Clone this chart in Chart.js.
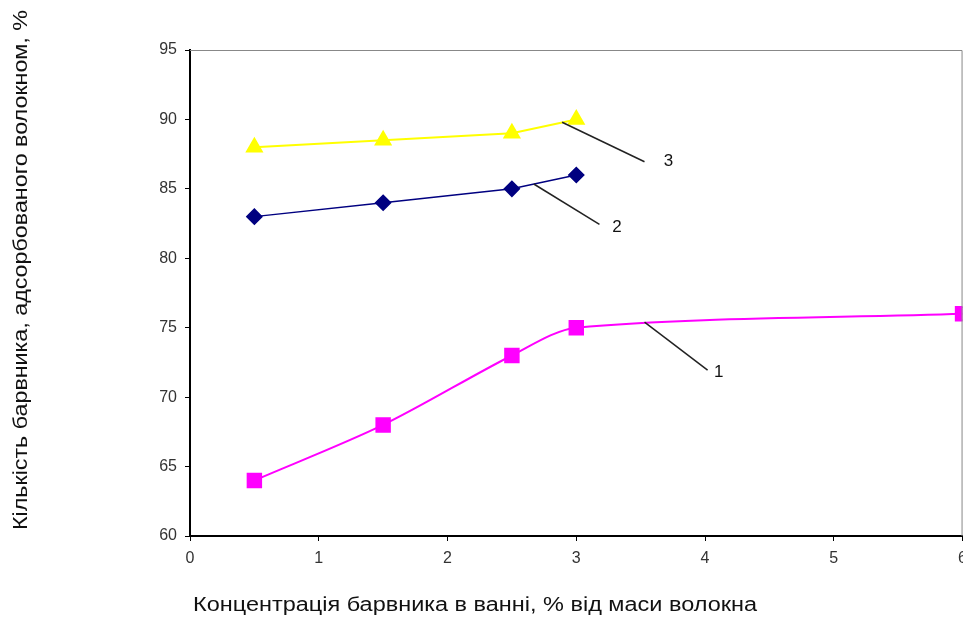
<!DOCTYPE html>
<html>
<head>
<meta charset="utf-8">
<script src="https://cdn.jsdelivr.net/npm/chart.js@4/dist/chart.umd.min.js"></script>
<style>
  html, body { margin: 0; padding: 0; background: #fff; overflow: hidden; }
  /* slightly wider than the window: the picture crops the right edge */
  #wrap { width: 975px; height: 621px; position: relative; }
</style>
</head>
<body>
<div id="wrap"><canvas id="chart"></canvas></div>
<script>
// concentration of dye in bath, % of fibre mass
const xValues1 = [0.5, 1.5, 2.5, 3, 6];
const curve1 = [64, 68, 73, 75, 76];
const xValues2 = [0.5, 1.5, 2.5, 3];
const curve2 = [83, 84, 85, 86];
const xValues3 = [0.5, 1.5, 2.5, 3];
const curve3 = [88, 88.5, 89, 90];

const yTitle = 'Кількість барвника, адсорбованого волокном, %';
const xTitle = 'Концентрація барвника в ванні, % від маси волокна';

// leader lines to the curve numbers: [from x, from y, to x, to y]
const leaderLabels = ['1', '2', '3'];
const leaderLines = [
  [3.53, 75.4, 4.02, 71.95],
  [2.67, 85.35, 3.18, 82.45],
  [2.89, 89.8, 3.53, 86.95]
];
const labelPos = [
  [4.07, 71.8],
  [3.28, 82.2],
  [3.68, 87.0]
];

const toPts = (xs, ys) => xs.map((x, i) => ({ x: x, y: ys[i] }));
const FONT = '"Liberation Sans", Arial, sans-serif';

// draw text stretched to a given width (the source picture is a bit wide)
function wideText(ctx, text, cx, cy, size, width) {
  ctx.font = size + 'px ' + FONT;
  const w = ctx.measureText(text).width;
  ctx.save();
  ctx.translate(cx, cy);
  ctx.scale(width / w, 1);
  ctx.fillText(text, 0, 0);
  ctx.restore();
}

const extras = {
  id: 'extras',
  afterDatasetsDraw(chart) {
    const ctx = chart.ctx;
    const a = chart.chartArea;
    const sx = chart.scales.x, sy = chart.scales.y;
    ctx.save();
    // frame on top/right
    ctx.strokeStyle = '#888';
    ctx.lineWidth = 1;
    ctx.beginPath();
    ctx.moveTo(a.left, a.top + 0.5);
    ctx.lineTo(a.right - 0.5, a.top + 0.5);
    ctx.lineTo(a.right - 0.5, a.bottom);
    ctx.stroke();

    // leader lines + numbers
    ctx.strokeStyle = '#222';
    ctx.lineWidth = 1.5;
    leaderLines.forEach(l => {
      ctx.beginPath();
      ctx.moveTo(sx.getPixelForValue(l[0]), sy.getPixelForValue(l[1]));
      ctx.lineTo(sx.getPixelForValue(l[2]), sy.getPixelForValue(l[3]));
      ctx.stroke();
    });
    ctx.fillStyle = '#111';
    ctx.font = '17px ' + FONT;
    ctx.textAlign = 'left';
    ctx.textBaseline = 'middle';
    labelPos.forEach((p, i) => {
      ctx.fillText(leaderLabels[i], sx.getPixelForValue(p[0]), sy.getPixelForValue(p[1]));
    });

    // axis titles
    ctx.textAlign = 'center';
    wideText(ctx, xTitle, 475, 605, 20, 564);
    ctx.translate(21, 270);
    ctx.rotate(-Math.PI / 2);
    wideText(ctx, yTitle, 0, 0, 20, 520);
    ctx.restore();
  }
};

new Chart(document.getElementById('chart'), {
  type: 'line',
  data: {
    datasets: [
      {
        label: '1',
        data: toPts(xValues1, curve1),
        borderColor: '#ff00ff',
        backgroundColor: '#ff00ff',
        borderWidth: 2,
        pointStyle: 'rect',
        pointRadius: 9.5,
        tension: 0.3
      },
      {
        label: '2',
        data: toPts(xValues2, curve2),
        borderColor: '#000080',
        backgroundColor: '#000080',
        borderWidth: 1.5,
        pointStyle: 'rectRot',
        pointRadius: 7.5,
        tension: 0
      },
      {
        label: '3',
        data: toPts(xValues3, curve3),
        borderColor: '#ffff00',
        backgroundColor: '#ffff00',
        borderWidth: 2,
        pointStyle: 'triangle',
        pointRadius: 8.5,
        tension: 0
      }
    ]
  },
  options: {
    responsive: true,
    maintainAspectRatio: false,
    animation: false,
    layout: { padding: { top: 50, right: 1, left: 0, bottom: 0 } },
    plugins: { legend: { display: false }, tooltip: { enabled: false } },
    scales: {
      x: {
        type: 'linear',
        min: 0, max: 6,
        ticks: { stepSize: 1, color: '#333', padding: 8, font: { size: 16, family: FONT } },
        grid: { drawOnChartArea: false, color: '#000', tickLength: 5 },
        border: { color: '#000', width: 2 },
        afterFit: s => { s.height = 85; }
      },
      y: {
        min: 60, max: 95,
        ticks: { stepSize: 5, color: '#333', padding: 8, font: { size: 16, family: FONT } },
        grid: { drawOnChartArea: false, color: '#000', tickLength: 5 },
        border: { color: '#000', width: 2 },
        afterFit: s => { s.width = 190; }
      }
    }
  },
  plugins: [extras]
});
</script>
</body>
</html>
